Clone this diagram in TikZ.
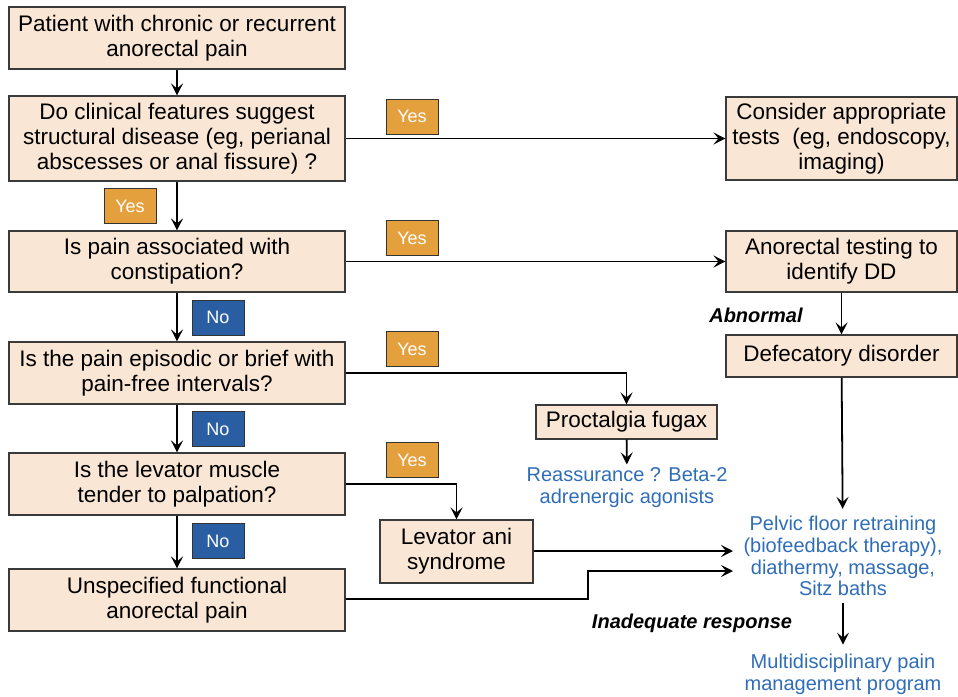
\documentclass[tikz,border=0pt]{standalone}
\usepackage{fontspec}
\setmainfont{Liberation Sans}
\usetikzlibrary{arrows.meta}
\definecolor{boxfill}{HTML}{FAE6D4}
\definecolor{boxline}{HTML}{3A3A3A}
\definecolor{yesfill}{HTML}{E5A03E}
\definecolor{nofill}{HTML}{2A5EA3}
\definecolor{bluetext}{HTML}{2F6DB8}
\tikzset{
  flowbox/.style={draw=boxline, line width=1.1pt, fill=boxfill, align=center,
    font=\fontsize{22.5}{25}\selectfont, inner sep=0pt},
  yeslab/.style={draw=black!80, line width=1pt, fill=yesfill, text=white,
    minimum width=52pt, minimum height=35pt, inner sep=0pt,
    font=\fontsize{18}{20}\selectfont},
  nolab/.style={yeslab, fill=nofill},
  bluenote/.style={text=bluetext, align=center, font=\fontsize{20}{21.7}\selectfont, inner sep=3pt},
  remark/.style={font=\fontsize{20}{22}\selectfont\bfseries\itshape, inner sep=0pt},
  conn/.style={line width=1.8pt, -{Stealth[length=12pt,width=12pt,inset=5pt]}},
  plain/.style={line width=1.8pt}
}
\begin{document}
\begin{tikzpicture}[x=1pt,y=-1pt]
\useasboundingbox (0,0) rectangle (958,696);
% left column
\node[flowbox, minimum width=336pt, minimum height=62pt] (b1) at (177,38) {Patient with chronic or recurrent\\anorectal pain};
\node[flowbox, minimum width=336pt, minimum height=85pt] (b2) at (177,138.5) {Do clinical features suggest\\structural disease (eg, perianal\\abscesses or anal fissure) ?};
\node[flowbox, minimum width=336pt, minimum height=61pt] (b3) at (177,261.5) {Is pain associated with\\constipation?};
\node[flowbox, minimum width=336pt, minimum height=62pt] (b4) at (177,373) {Is the pain episodic or brief with\\pain-free intervals?};
\node[flowbox, minimum width=336pt, minimum height=62pt] (b5) at (177,484) {Is the levator muscle\\tender to palpation?};
\node[flowbox, minimum width=336pt, minimum height=62pt] (b6) at (177,600) {Unspecified functional\\anorectal pain};
% right column
\node[flowbox, minimum width=231pt, minimum height=83pt] (tests) at (841.5,138.5) {Consider appropriate\\tests\ \ (eg, endoscopy,\\imaging)};
\node[flowbox, minimum width=231pt, minimum height=61pt] (anot) at (841.5,261.5) {Anorectal testing to\\identify DD};
\node[flowbox, minimum width=231pt, minimum height=42pt] (defec) at (841.5,356) {Defecatory disorder};
% middle
\node[flowbox, minimum width=181pt, minimum height=34pt] (proct) at (626.5,422) {Proctalgia fugax};
\node[flowbox, minimum width=153pt, minimum height=63pt] (lev) at (456.5,551.5) {Levator ani\\syndrome};
% blue notes
\node[bluenote] (reass) at (627,487.5) {Reassurance ? Beta-2\\adrenergic agonists};
\node[bluenote, inner sep=7pt] (pelvic) at (843,556) {Pelvic floor retraining\\(biofeedback therapy),\\diathermy, massage,\\Sitz baths};
\node[bluenote, inner sep=9pt] (multi) at (843,674) {Multidisciplinary pain\\management program};
% remarks
\node[remark] (abn) at (756,315) {Abnormal};
\node[remark] (inad) at (692,623) {Inadequate response};
% labels
\node[yeslab] (y1) at (412,116.5) {Yes};
\node[yeslab] (y2) at (130,206) {Yes};
\node[yeslab] (y3) at (412,238) {Yes};
\node[nolab] (n1) at (218,317.5) {No};
\node[yeslab] (y4) at (412,349) {Yes};
\node[nolab] (n2) at (218,429) {No};
\node[yeslab] (y5) at (412,460) {Yes};
\node[nolab] (n3) at (218,541) {No};
% coordinates
\coordinate (pin1) at (733,551);
\coordinate (pin2) at (733,571);
\coordinate (bend6) at (588,599);
% connectors
\draw[conn] (b1) -- (b2);
\draw[conn] (b2) -- (b3);
\draw[conn] (b3) -- (b4);
\draw[conn] (b4) -- (b5);
\draw[conn] (b5) -- (b6);
\draw[conn] (b2.east) -- (tests.west);
\draw[conn] (b3.east) -- (anot.west);
\draw[conn] (anot) -- (defec);
\draw[conn] (defec) -- (pelvic);
\draw[conn] (pelvic) -- (multi);
\draw[conn] (b4.east) -| (proct.north);
\draw[conn] (b5.east) -| (lev.north);
\draw[conn] (proct) -- (reass);
\draw[conn] (lev.east |- pin1) -- (pin1);
\draw[conn] (b6.east |- bend6) -- (bend6) |- (pin2);
\end{tikzpicture}
\end{document}
